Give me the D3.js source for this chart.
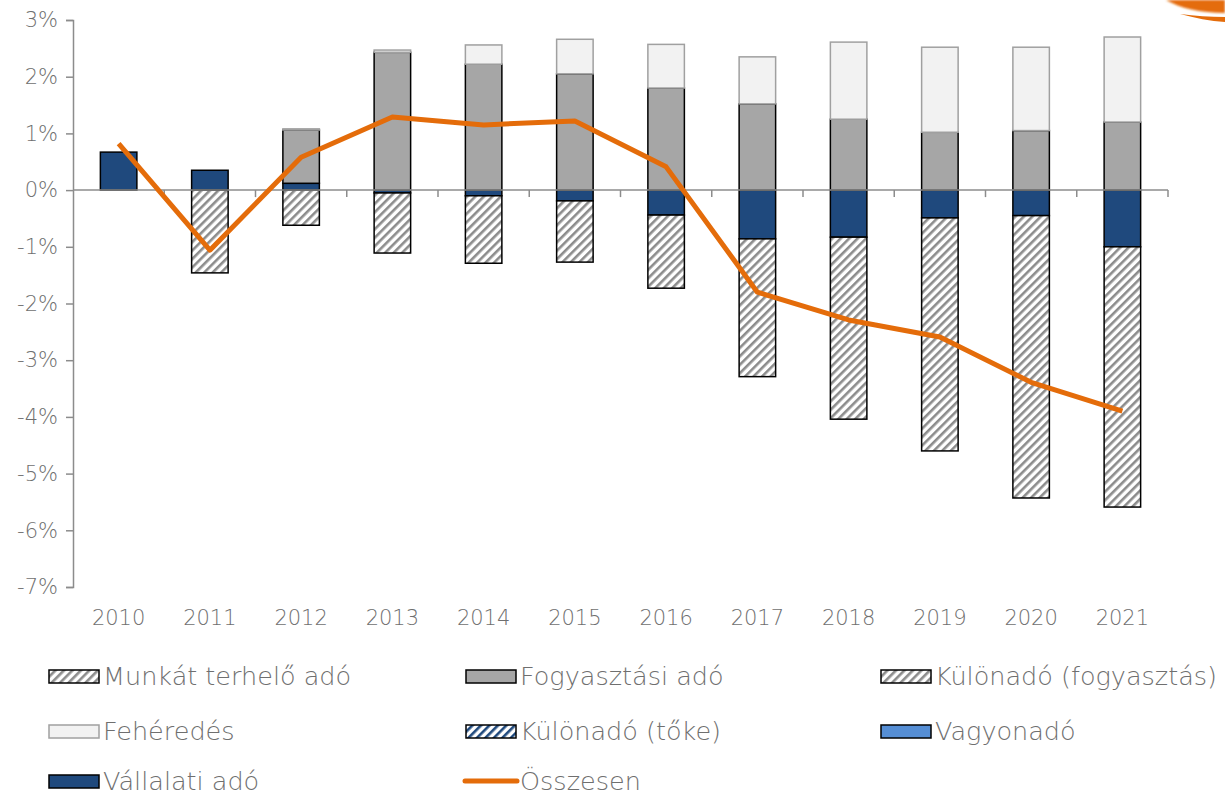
<!DOCTYPE html>
<html>
<head>
<meta charset="utf-8">
<script src="https://cdn.jsdelivr.net/npm/d3@7"></script>
<style>
  body { margin: 0; background: #fff; }
  svg text { font-family: "DejaVu Sans ExtraLight", "DejaVu Sans", sans-serif; font-weight: 200; fill: #6f6f6f; }
</style>
</head>
<body>
<div class="graph"></div>
<script>
var years = ["2010", "2011", "2012", "2013", "2014", "2015", "2016", "2017", "2018", "2019", "2020", "2021"];
var vallalati = [0.67, 0.35, 0.12, -0.05, -0.10, -0.19, -0.44, -0.86, -0.83, -0.49, -0.45, -1.00];
var munkat = [0, -1.46, -0.62, -1.06, -1.19, -1.08, -1.29, -2.43, -3.21, -4.11, -4.98, -4.59];
var fogyasztasi = [0, 0, 0.94, 2.43, 2.22, 2.05, 1.80, 1.52, 1.25, 1.02, 1.05, 1.20];
var kulonFogy = [0, 0, 0, 0, 0, 0, 0, 0, 0, 0, 0, 0];
var feheredes = [0, 0, 0.02, 0.04, 0.34, 0.61, 0.77, 0.83, 1.36, 1.50, 1.47, 1.50];
var kulonToke = [0, 0, 0, 0, 0, 0, 0, 0, 0, 0, 0, 0];
var vagyon = [0, 0, 0, 0, 0, 0, 0, 0, 0, 0, 0, 0];
var osszesen = [0.82, -1.06, 0.58, 1.29, 1.15, 1.22, 0.41, -1.80, -2.29, -2.59, -3.39, -3.90];
var yTicks = [3, 2, 1, 0, -1, -2, -3, -4, -5, -6, -7];

var series = [
    {key: "vallalati", name: "Vállalati adó", values: vallalati, fill: "#1f497d", stroke: "#000"},
    {key: "munkat", name: "Munkát terhelő adó", values: munkat, fill: "url(#hatchGray)", stroke: "#000"},
    {key: "fogyasztasi", name: "Fogyasztási adó", values: fogyasztasi, fill: "#a6a6a6", stroke: "#000"},
    {key: "kulonFogy", name: "Különadó (fogyasztás)", values: kulonFogy, fill: "url(#hatchGray)", stroke: "#000"},
    {key: "feheredes", name: "Fehéredés", values: feheredes, fill: "#f2f2f2", stroke: "#a0a0a0"},
    {key: "kulonToke", name: "Különadó (tőke)", values: kulonToke, fill: "url(#hatchBlue)", stroke: "#000"},
    {key: "vagyon", name: "Vagyonadó", values: vagyon, fill: "#558ed5", stroke: "#000"}
];

// legend order as in the original
var legendOrder = ["munkat", "fogyasztasi", "kulonFogy", "feheredes", "kulonToke", "vagyon", "vallalati", "osszesen"];

var margin = {top: 20, right: 57, bottom: 212, left: 73},
    width = 1225 - margin.left - margin.right,
    height = 799 - margin.top - margin.bottom;

var root = d3.select(".graph").append("svg")
    .attr("width", 1225)
    .attr("height", 799);

var defs = root.append("defs");
function hatch(id, bg, fg) {
    var p = defs.append("pattern")
        .attr("id", id)
        .attr("patternUnits", "userSpaceOnUse")
        .attr("width", 6)
        .attr("height", 6)
        .attr("patternTransform", "rotate(45)");
    p.append("rect").attr("width", 6).attr("height", 6).attr("fill", bg);
    p.append("rect").attr("width", 2.6).attr("height", 6).attr("fill", fg);
}
hatch("hatchGray", "#fff", "#8c8c8c");
hatch("hatchBlue", "#fff", "#1f497d");
defs.append("filter").attr("id", "soft")
    .append("feGaussianBlur").attr("stdDeviation", 1.2);

// decorative orange swoosh in the top right corner (part of the slide logo)
root.append("path")
    .attr("d", "M1166,0 C1180,8 1200,13 1225,13 L1225,0 Z")
    .attr("fill", "#e46c0a")
    .attr("filter", "url(#soft)");
root.append("path")
    .attr("d", "M1180,14 C1195,18 1210,21 1225,22 L1225,17 C1210,17 1195,16 1180,14 Z")
    .attr("fill", "#e46c0a");

var svg = root.append("g")
    .attr("transform", "translate(" + margin.left + "," + margin.top + ")");

var xScale = d3.scaleBand().domain(years).range([0, width]).paddingInner(0.6).paddingOuter(0.3);
var xLine = d3.scaleBand().domain(years).range([0, width]);
var yScale = d3.scaleLinear().domain([-7, 3]).range([height, 0]);

var table = years.map(function(y, i) {
    var row = {year: y};
    series.forEach(function(s) { row[s.key] = s.values[i]; });
    return row;
});

var stack = d3.stack()
    .keys(series.map(function(s) { return s.key; }))
    .offset(d3.stackOffsetDiverging);
var stacked = stack(table);

// y axis
var yAxis = d3.axisLeft(yScale).tickValues(yTicks).tickSize(7).tickPadding(8)
    .tickFormat(function(d) { return d + "%"; });
var gy = svg.append("g").attr("class", "y axis").call(yAxis);
gy.select(".domain").attr("stroke", "#8c8c8c").attr("stroke-width", 1.5);
gy.selectAll(".tick line").attr("stroke", "#8c8c8c").attr("stroke-width", 1.5);
gy.selectAll(".tick text").style("font-size", "21px").attr("fill", null)
    .style("font-family", null);

// bars
series.forEach(function(s, si) {
    var layer = stacked[si];
    svg.append("g").attr("class", "layer " + s.key)
        .selectAll("rect")
        .data(layer.filter(function(d) { return Math.abs(d[1] - d[0]) > 0.0001; }))
        .enter()
        .append("rect")
        .attr("x", function(d) { return xScale(d.data.year); })
        .attr("width", xScale.bandwidth())
        .attr("y", function(d) { return yScale(Math.max(d[0], d[1])); })
        .attr("height", function(d) { return Math.abs(yScale(d[0]) - yScale(d[1])); })
        .attr("fill", s.fill)
        .attr("stroke", s.stroke)
        .attr("stroke-width", 1.5);
});

// x axis at zero with ticks between categories
var gx = svg.append("g").attr("class", "x axis")
    .attr("transform", "translate(0," + yScale(0) + ")");
gx.append("line")
    .attr("x1", 0).attr("x2", width)
    .attr("stroke", "#8c8c8c").attr("stroke-width", 1.5);
gx.selectAll(".sep")
    .data(years.slice(1).concat(["end"]))
    .enter()
    .append("line")
    .attr("class", "sep")
    .attr("x1", function(d) { return d === "end" ? width : xLine(d); })
    .attr("x2", function(d) { return d === "end" ? width : xLine(d); })
    .attr("y1", 0).attr("y2", 7)
    .attr("stroke", "#8c8c8c").attr("stroke-width", 1.5);

// category labels along the bottom
svg.append("g").selectAll("text")
    .data(years)
    .enter()
    .append("text")
    .attr("x", function(d) { return xLine(d) + xLine.bandwidth() / 2; })
    .attr("y", height + 38)
    .attr("text-anchor", "middle")
    .style("font-size", "21px")
    .text(function(d) { return d; });

// total line
var line = d3.line()
    .x(function(d, i) { return xLine(years[i]) + xLine.bandwidth() / 2; })
    .y(function(d) { return yScale(d); });
svg.append("path")
    .datum(osszesen)
    .attr("d", line)
    .attr("fill", "none")
    .attr("stroke", "#e46c0a")
    .attr("stroke-width", 5)
    .attr("stroke-linejoin", "round");

// legend
var legendCols = [48, 465, 880];
var legendRows = [676, 731, 781];
var legend = root.append("g").attr("class", "legend");
legendOrder.forEach(function(key, i) {
    var x = legendCols[i % 3], y = legendRows[Math.floor(i / 3)];
    var g = legend.append("g").attr("transform", "translate(" + x + "," + y + ")");
    var name;
    if (key === "osszesen") {
        name = "Összesen";
        g.append("line").attr("x1", 0).attr("x2", 52)
            .attr("stroke", "#e46c0a").attr("stroke-width", 5).attr("stroke-linecap", "round");
    } else {
        var s = series.filter(function(d) { return d.key === key; })[0];
        name = s.name;
        g.append("rect").attr("x", 1).attr("y", -6).attr("width", 50).attr("height", 13)
            .attr("fill", s.fill).attr("stroke", s.stroke).attr("stroke-width", 1.5);
    }
    g.append("text").attr("x", 55).attr("y", 0).attr("dy", "0.35em")
        .style("font-size", "25.5px").text(name);
});
</script>
</body>
</html>
